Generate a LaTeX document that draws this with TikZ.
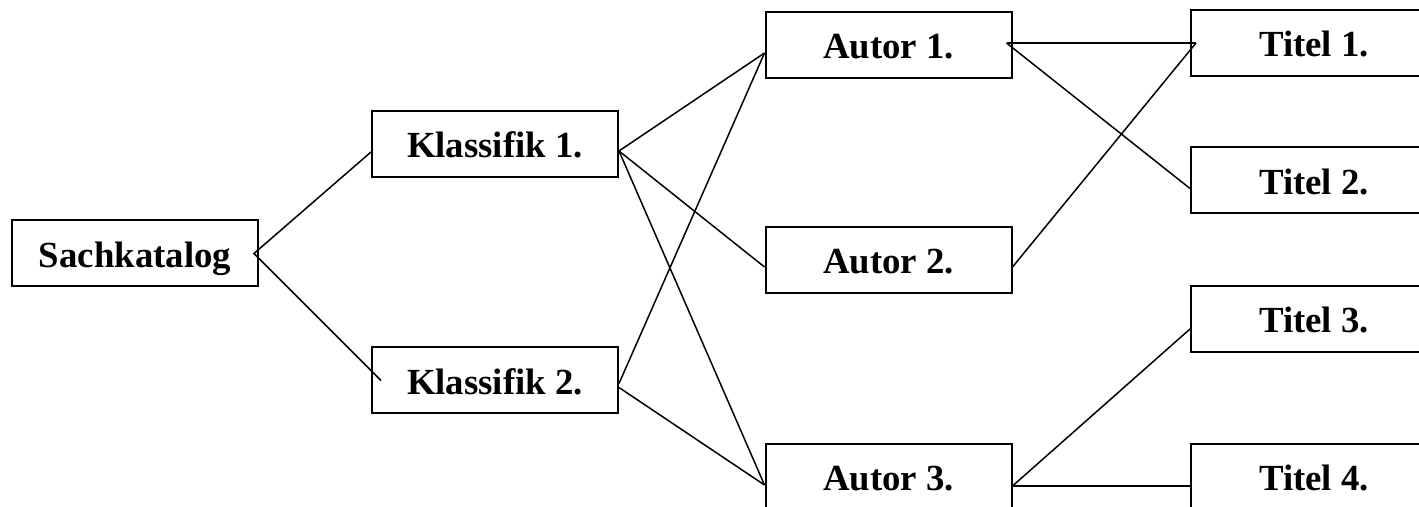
\documentclass[tikz,border=0pt]{standalone}
\usepackage{fontspec}
\setmainfont{Liberation Serif}
\usetikzlibrary{positioning}

\begin{document}
\begin{tikzpicture}[x=0.5pt,y=-0.5pt,
		katbox/.style={draw, line width=1pt, inner sep=0pt, minimum width=123pt, minimum height=33pt,
			text height=14.5pt, text depth=0.5pt,
			font=\fontsize{18.4}{22}\selectfont\bfseries},
		verb/.style={line width=0.75pt}]
		
			\useasboundingbox (0,0) rectangle (1419,507);
			\clip (0,0) rectangle (1419,507);
			
			% Kataloge und Klassifikationen
			\node[katbox] (sach) at (135,253.5) {Sachkatalog};
			\node[katbox] (kl1) at (495,144) {Klassifik 1.};
			\node[katbox] (kl2) at (495,380.5) {Klassifik 2.};
			
			% Autoren
			\node[katbox] (au1) at (888.5,45) {Autor 1.};
			\node[katbox] (au2) at (888.5,260) {Autor 2.};
			\node[katbox] (au3) at (888.5,477) {Autor 3.};
			
			% Titel
			\node[katbox] (ti1) at (1314,43) {Titel 1.};
			\node[katbox] (ti2) at (1314,180.5) {Titel 2.};
			\node[katbox] (ti3) at (1314,319) {Titel 3.};
			\node[katbox] (ti4) at (1314,477) {Titel 4.};
			
			
			\draw[verb] ([yshift=-4pt]kl1.west) -- ([xshift=-2.5pt]sach.east) -- ([xshift=5pt]kl2.west);
			
			\draw[verb] ([yshift=-3.5pt]kl1.east) -- ([yshift=-4pt]au1.west);
			\draw[verb] ([yshift=-3.5pt]kl1.east) -- ([yshift=-3.5pt]au2.west);
			\draw[verb] ([yshift=-3.5pt]kl1.east) -- ([yshift=-4pt]au3.west);
			
			\draw[verb] ([yshift=-1.5pt]kl2.east) -- ([yshift=-4pt]au1.west);
			\draw[verb] ([yshift=-3.5pt]kl2.east) -- ([yshift=-4pt]au3.west);
			
			\draw[verb] ([xshift=-3pt,yshift=1pt]au1.east) -- ([xshift=3pt]ti1.west);
			\draw[verb] ([xshift=-3pt,yshift=1pt]au1.east) -- ([yshift=-4pt]ti2.west);
			\draw[verb] ([yshift=-3.5pt]au2.east) -- ([xshift=3pt]ti1.west);
			
			\draw[verb] ([yshift=-4.5pt]au3.east) -- ([yshift=-5pt]ti3.west);
			\draw[verb] ([yshift=-4.5pt]au3.east) -- ([yshift=-4.5pt]ti4.west);
			
		\end{tikzpicture}
\end{document}
